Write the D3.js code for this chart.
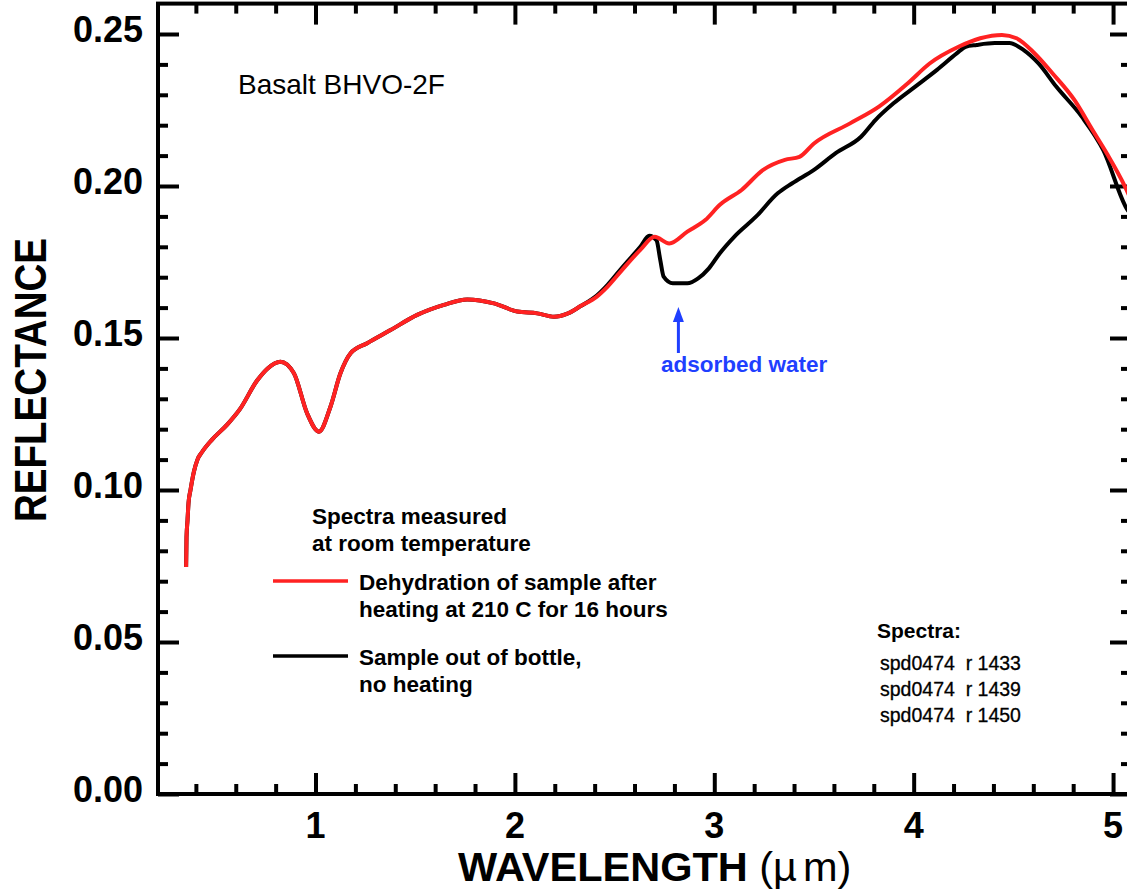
<!DOCTYPE html>
<html>
<head>
<meta charset="utf-8">
<script src="https://cdn.jsdelivr.net/npm/d3@7"></script>
<style>
  html, body { margin: 0; padding: 0; background: #fff; }
  svg { display: block; }
  text { font-family: "Liberation Sans", Arial, Helvetica, sans-serif; }
</style>
</head>
<body>
<svg id="chart" width="1127" height="892"></svg>
<script>
// ---------------- data ----------------
const redWavelength = [0.351,0.353,0.358,0.363,0.373,0.39,0.408,0.431,0.48,0.557,0.62,0.707,0.76,0.824,0.891,0.958,1.017,1.075,1.125,1.176,1.259,1.376,1.51,1.644,1.761,1.895,2.012,2.112,2.196,2.263,2.33,2.411,2.465,2.538,2.629,2.701,2.774,2.865,2.955,3.028,3.137,3.245,3.354,3.427,3.5,3.681,3.826,3.971,4.08,4.225,4.334,4.443,4.516,4.607,4.697,4.806,4.897,4.969,5.06,5.1];
const redReflectance = [0.0747,0.0845,0.090,0.0957,0.100,0.106,0.110,0.1125,0.1165,0.1215,0.1265,0.136,0.140,0.1422,0.1385,0.1252,0.1192,0.1274,0.1384,0.145,0.1483,0.1526,0.1576,0.1609,0.1627,0.1614,0.1587,0.1581,0.157,0.158,0.1605,0.1636,0.1669,0.1724,0.179,0.1833,0.1811,0.185,0.1888,0.1938,0.1987,0.2053,0.2086,0.2096,0.214,0.2206,0.2261,0.2338,0.2403,0.2458,0.2486,0.2497,0.2486,0.2436,0.237,0.2283,0.2184,0.2107,0.1998,0.194];

const blackWavelength = [0.351,0.353,0.358,0.363,0.373,0.39,0.408,0.431,0.48,0.557,0.62,0.707,0.76,0.824,0.891,0.958,1.017,1.075,1.125,1.176,1.259,1.376,1.51,1.644,1.761,1.895,2.012,2.112,2.196,2.263,2.33,2.411,2.465,2.538,2.629,2.674,2.71,2.729,2.746,2.792,2.865,2.919,2.973,3.028,3.1,3.209,3.318,3.391,3.5,3.609,3.736,3.808,3.899,4.008,4.117,4.216,4.261,4.316,4.407,4.48,4.552,4.625,4.715,4.843,4.951,5.073,5.1];
const blackReflectance = [0.0747,0.0845,0.090,0.0957,0.100,0.106,0.110,0.1125,0.1165,0.1215,0.1265,0.136,0.140,0.1422,0.1385,0.1252,0.1192,0.1274,0.1384,0.145,0.1483,0.1526,0.1576,0.1609,0.1627,0.1614,0.1587,0.1581,0.157,0.158,0.1605,0.1640,0.1675,0.1732,0.1800,0.1836,0.1822,0.1757,0.1702,0.168,0.168,0.1696,0.1729,0.1779,0.1833,0.1899,0.1976,0.2009,0.2053,0.2108,0.2162,0.2217,0.2272,0.2327,0.2382,0.2436,0.2458,0.2464,0.247,0.247,0.2447,0.2404,0.2327,0.2228,0.2118,0.1921,0.190];

const xMajorTicks = [1, 2, 3, 4, 5];
const xTickLabels = ["1", "2", "3", "4", "5"];
const yMajorTicks = [0, 0.05, 0.10, 0.15, 0.20, 0.25];
const yTickLabels = ["0.00", "0.05", "0.10", "0.15", "0.20", "0.25"];

const legendLabels = [
  ["Dehydration of sample after", "heating at 210 C for 16 hours"],
  ["Sample out of bottle,", "no heating"]
];
const legendColors = ["#ff2222", "#000000"];
const noteLines = ["Spectra measured", "at room temperature"];
const spectraIds = ["spd0474  r 1433", "spd0474  r 1439", "spd0474  r 1450"];

// ---------------- layout ----------------
const svg = d3.select("#chart");
const pLeft = 158, pRight = 1131, pTop = 3.6, pBottom = 794;
const x = d3.scaleLinear().domain([0.21, 5.09]).range([pLeft, pRight]);
const y = d3.scaleLinear().domain([0, 0.26]).range([pBottom, pTop]);

const xMinor = d3.range(0.4, 5.09, 0.2).filter(v => Math.abs(v - Math.round(v)) > 1e-6);
const yMinor = d3.range(0.01, 0.26, 0.01).filter(v => Math.abs(v * 20 - Math.round(v * 20)) > 1e-6);

svg.append("defs").append("clipPath").attr("id", "plotclip")
  .append("rect").attr("x", pLeft).attr("y", pTop).attr("width", pRight - pLeft).attr("height", pBottom - pTop);

const axStroke = 4;
const majorLen = 21, minorLen = 10;

const bottomAxis = d3.axisBottom(x).tickValues(xMajorTicks).tickSizeInner(-majorLen).tickSizeOuter(0).tickFormat("");
const bottomMinor = d3.axisBottom(x).tickValues(xMinor).tickSizeInner(-minorLen).tickSizeOuter(0).tickFormat("");
const topAxis = d3.axisTop(x).tickValues(xMajorTicks).tickSizeInner(-majorLen).tickSizeOuter(0).tickFormat("");
const topMinor = d3.axisTop(x).tickValues(xMinor).tickSizeInner(-minorLen).tickSizeOuter(0).tickFormat("");
const leftAxis = d3.axisLeft(y).tickValues(yMajorTicks).tickSizeInner(-majorLen).tickSizeOuter(0).tickFormat("");
const leftMinor = d3.axisLeft(y).tickValues(yMinor).tickSizeInner(-minorLen).tickSizeOuter(0).tickFormat("");
const rightAxis = d3.axisRight(y).tickValues(yMajorTicks).tickSizeInner(-majorLen).tickSizeOuter(0).tickFormat("");
const rightMinor = d3.axisRight(y).tickValues(yMinor).tickSizeInner(-minorLen).tickSizeOuter(0).tickFormat("");

function styleAxis(g) {
  g.selectAll("path.domain").remove();
  g.selectAll("line").attr("stroke", "#000").attr("stroke-width", axStroke);
}
svg.append("g").attr("transform", `translate(0,${pBottom})`).call(bottomAxis).call(styleAxis);
svg.append("g").attr("transform", `translate(0,${pBottom})`).call(bottomMinor).call(styleAxis);
svg.append("g").attr("transform", `translate(0,${pTop})`).call(topAxis).call(styleAxis);
svg.append("g").attr("transform", `translate(0,${pTop})`).call(topMinor).call(styleAxis);
svg.append("g").attr("transform", `translate(${pLeft},0)`).call(leftAxis).call(styleAxis);
svg.append("g").attr("transform", `translate(${pLeft},0)`).call(leftMinor).call(styleAxis);
svg.append("g").attr("transform", `translate(${pRight},0)`).call(rightAxis).call(styleAxis);
svg.append("g").attr("transform", `translate(${pRight},0)`).call(rightMinor).call(styleAxis);

svg.append("rect").attr("x", pLeft).attr("y", pTop).attr("width", pRight - pLeft).attr("height", pBottom - pTop)
  .attr("fill", "none").attr("stroke", "#000").attr("stroke-width", axStroke);

// tick labels
svg.append("g").selectAll("text").data(yMajorTicks).join("text")
  .attr("x", 143).attr("y", d => y(d) + 8)
  .attr("text-anchor", "end").attr("font-size", 36).attr("font-weight", "bold")
  .text((d, i) => yTickLabels[i]);
svg.append("g").selectAll("text").data(xMajorTicks).join("text")
  .attr("x", d => x(d)).attr("y", 838)
  .attr("text-anchor", "middle").attr("font-size", 36).attr("font-weight", "bold")
  .text((d, i) => xTickLabels[i]);

// axis titles
const xt = svg.append("text").attr("x", 458).attr("y", 881).attr("font-size", 41.5);
xt.append("tspan").attr("font-weight", "bold").text("WAVELENGTH ");
xt.append("tspan").attr("font-weight", "normal").text("(µ");
xt.append("tspan").attr("font-weight", "normal").attr("dx", 6).text("m)");

svg.append("text")
  .attr("transform", "translate(46,380) rotate(-90)")
  .attr("text-anchor", "middle").attr("font-size", 44).attr("font-weight", "bold")
  .attr("textLength", 284).attr("lengthAdjust", "spacingAndGlyphs")
  .text("REFLECTANCE");

// curves
const line = d3.line().x(d => x(d[0])).y(d => y(d[1])).curve(d3.curveMonotoneX);
const blackData = blackWavelength.map((w, i) => [w, blackReflectance[i]]);
const redData = redWavelength.map((w, i) => [w, redReflectance[i]]);
const plot = svg.append("g").attr("clip-path", "url(#plotclip)");
plot.append("path").datum(blackData).attr("d", line)
  .attr("fill", "none").attr("stroke", legendColors[1]).attr("stroke-width", 4).attr("stroke-linejoin", "round");
plot.append("path").datum(redData).attr("d", line)
  .attr("fill", "none").attr("stroke", legendColors[0]).attr("stroke-width", 4).attr("stroke-linejoin", "round");

svg.append("text").attr("x", 238).attr("y", 94).attr("font-size", 28).text("Basalt BHVO-2F");

svg.append("g").selectAll("text").data(noteLines).join("text")
  .attr("x", 312).attr("y", (d, i) => 524 + i * 27)
  .attr("font-size", 22.5).attr("font-weight", "bold").text(d => d);

const legY = [581, 656];
legendLabels.forEach((lines, k) => {
  svg.append("line").attr("x1", 273).attr("x2", 348).attr("y1", legY[k]).attr("y2", legY[k])
    .attr("stroke", legendColors[k]).attr("stroke-width", 3.5);
  svg.append("g").selectAll("text").data(lines).join("text")
    .attr("x", 359).attr("y", (d, i) => legY[k] + 9 + i * 27)
    .attr("font-size", 22.5).attr("font-weight", "bold").text(d => d);
});

svg.append("text").attr("x", 877).attr("y", 638).attr("font-size", 21).attr("font-weight", "bold").text("Spectra:");
svg.append("g").selectAll("text").data(spectraIds).join("text")
  .attr("x", 880).attr("y", (d, i) => 670 + i * 26)
  .attr("font-size", 19.5).attr("stroke", "#000").attr("stroke-width", 0.3)
  .style("white-space", "pre").text(d => d);

const blue = "#1f3fff";
const arrowX = x(2.82);
svg.append("line").attr("x1", arrowX).attr("x2", arrowX).attr("y1", 353).attr("y2", 318)
  .attr("stroke", blue).attr("stroke-width", 3);
svg.append("path")
  .attr("d", `M${arrowX},307 L${arrowX - 5.5},322 L${arrowX + 5.5},322 Z`).attr("fill", blue);
svg.append("text").attr("x", 661).attr("y", 372).attr("font-size", 22.5).attr("font-weight", "bold")
  .attr("fill", blue).text("adsorbed water");
</script>
</body>
</html>
